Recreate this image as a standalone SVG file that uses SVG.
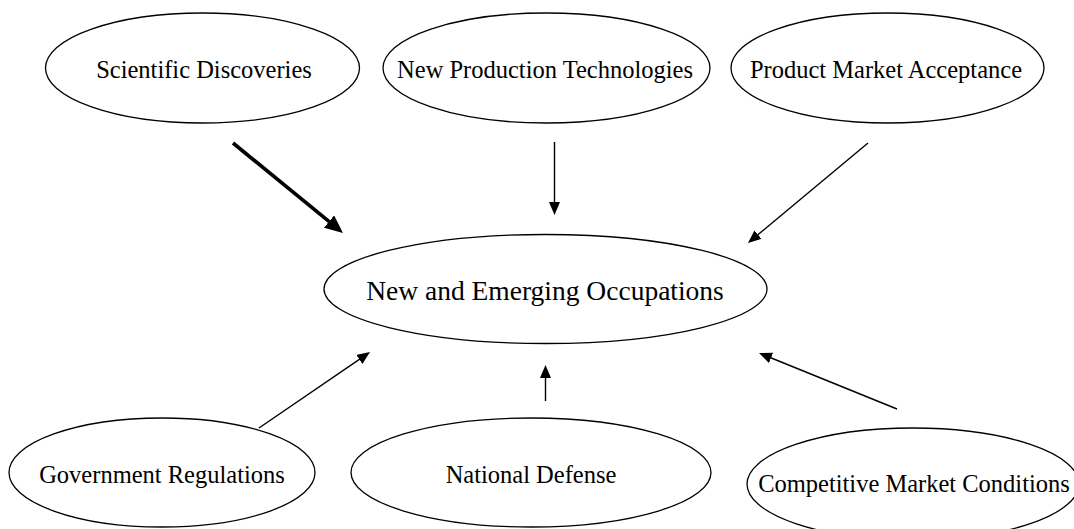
<svg xmlns="http://www.w3.org/2000/svg" width="1074" height="529" viewBox="0 0 1074 529">
<style>
.n ellipse{fill:#fff;stroke:#000;stroke-width:1.3}
.n text{font-family:"Liberation Serif","Times New Roman",serif;font-size:24.5px;fill:#000;text-anchor:middle}
#center text{font-size:27.5px}
.c line{stroke:#000;stroke-width:1.4;fill:none}
.c line.thin{marker-end:url(#ah)}
.c line.thick{stroke-width:3.6;marker-end:url(#ahb)}
</style>
<defs>
<marker id="ah" markerUnits="userSpaceOnUse" markerWidth="15" markerHeight="12" refX="1" refY="5.5" orient="auto"><path d="M0,0 L13,5.5 L0,11 z" fill="#000"/></marker>
<marker id="ahb" markerUnits="userSpaceOnUse" markerWidth="20" markerHeight="17" refX="1" refY="8" orient="auto"><path d="M0,0 L18,8 L0,16 z" fill="#000"/></marker>
</defs>
<rect width="1074" height="529" fill="#fff"/>
<g id="sci" class="n"><ellipse cx="202.5" cy="68" rx="157" ry="55"/><text x="204" y="78">Scientific Discoveries</text></g>
<g id="prod" class="n"><ellipse cx="546.5" cy="68" rx="163.5" ry="55"/><text x="545" y="78">New Production Technologies</text></g>
<g id="mkt" class="n"><ellipse cx="887.5" cy="68" rx="156.5" ry="55"/><text x="886" y="78">Product Market Acceptance</text></g>
<g id="center" class="n"><ellipse cx="545.5" cy="289" rx="221.5" ry="54.5"/><text x="545" y="300">New and Emerging Occupations</text></g>
<g id="gov" class="n"><ellipse cx="162" cy="472.5" rx="153" ry="54.5"/><text x="162" y="483">Government Regulations</text></g>
<g id="def" class="n"><ellipse cx="531" cy="472.5" rx="180" ry="54.5"/><text x="531" y="483">National Defense</text></g>
<g id="comp" class="n"><ellipse cx="913" cy="484" rx="166" ry="56"/><text x="914" y="492">Competitive Market Conditions</text></g>
<g id="connectors" class="c">
<line class="thick" x1="233" y1="143" x2="329.8" y2="222.2"/>
<line class="thin" x1="554.5" y1="142" x2="554.5" y2="203"/>
<line class="thin" x1="868" y1="143" x2="757.2" y2="235.3"/>
<line class="thin" x1="259" y1="428" x2="360.1" y2="358.8"/>
<line class="thin" x1="545.5" y1="401" x2="545.5" y2="377"/>
<line class="thin" x1="897" y1="409" x2="770.1" y2="357.5"/>
</g>
</svg>
